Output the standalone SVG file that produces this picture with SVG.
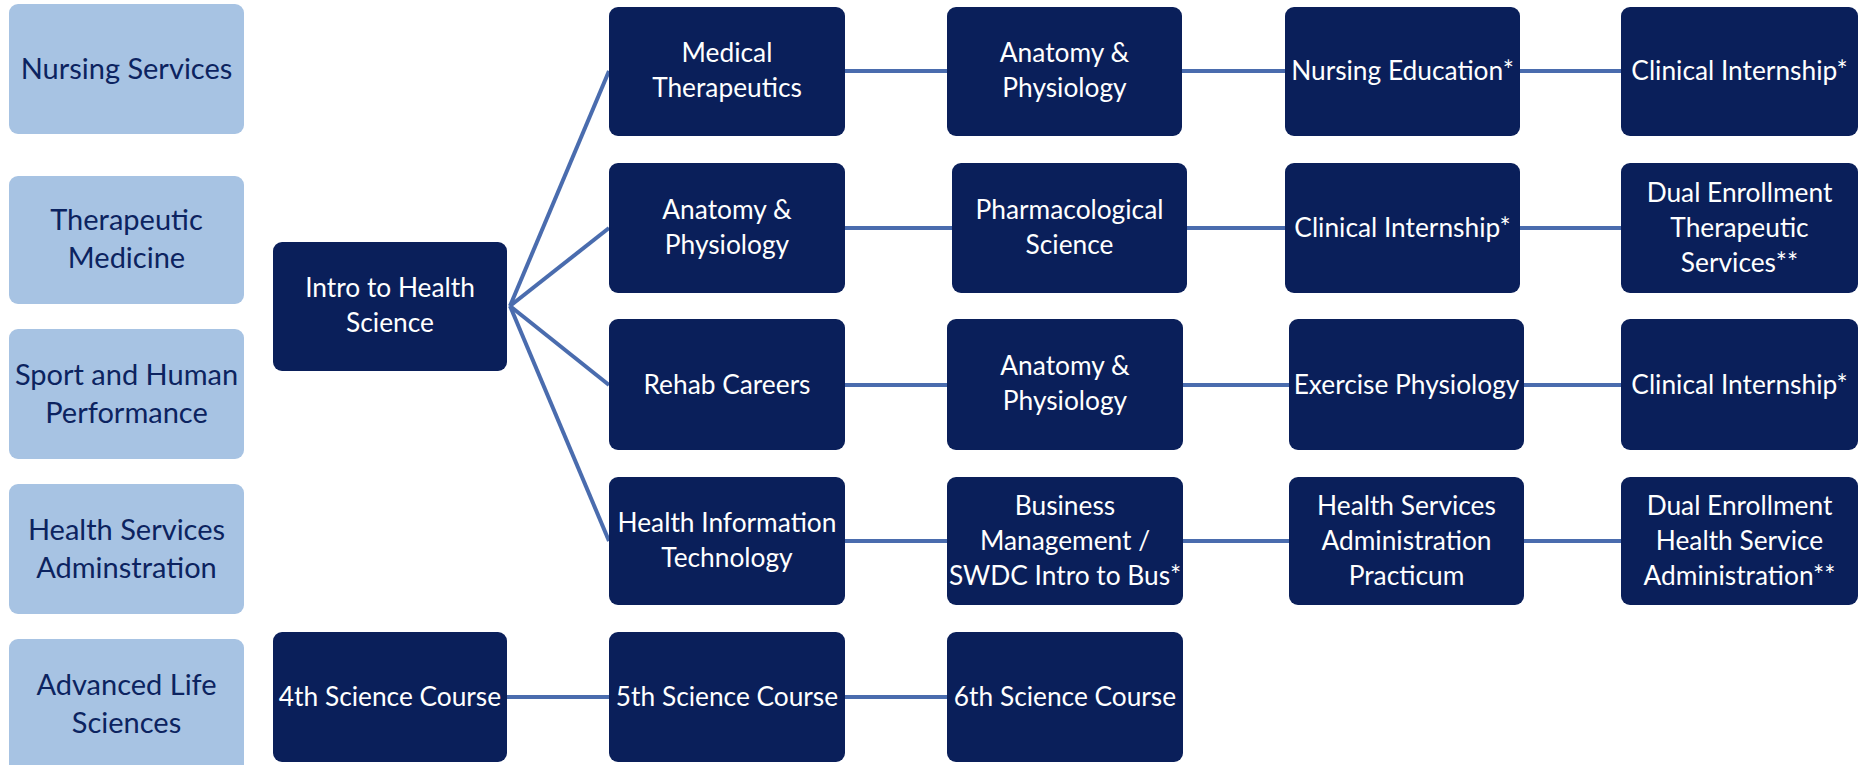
<svg xmlns="http://www.w3.org/2000/svg" width="1864" height="765" viewBox="0 0 1864 765">
<style>
.lb{fill:#a7c3e3}
.db{fill:#0a1f5a}
.lt{font-family:Lato,"Open Sans",sans-serif;font-size:29px;fill:#0c2360;text-anchor:middle}
.dt{font-family:Lato,"Open Sans",sans-serif;font-size:26.3px;fill:#ffffff;text-anchor:middle}
.c{stroke:#4a6cae;stroke-width:4;fill:none}
</style>
<rect width="1864" height="765" fill="#ffffff"/>
<g id="connectors">
<line class="c" x1="510" y1="306" x2="609" y2="71"/>
<line class="c" x1="510" y1="306" x2="609" y2="228"/>
<line class="c" x1="510" y1="306" x2="609" y2="385"/>
<line class="c" x1="510" y1="306" x2="609" y2="541"/>
<line class="c" x1="845" y1="71" x2="947" y2="71"/>
<line class="c" x1="1182" y1="71" x2="1285" y2="71"/>
<line class="c" x1="1520" y1="71" x2="1621" y2="71"/>
<line class="c" x1="845" y1="228" x2="952" y2="228"/>
<line class="c" x1="1187" y1="228" x2="1285" y2="228"/>
<line class="c" x1="1520" y1="228" x2="1621" y2="228"/>
<line class="c" x1="845" y1="385" x2="947" y2="385"/>
<line class="c" x1="1183" y1="385" x2="1289" y2="385"/>
<line class="c" x1="1524" y1="385" x2="1621" y2="385"/>
<line class="c" x1="845" y1="541" x2="947" y2="541"/>
<line class="c" x1="1183" y1="541" x2="1289" y2="541"/>
<line class="c" x1="1524" y1="541" x2="1621" y2="541"/>
<line class="c" x1="507" y1="697" x2="609" y2="697"/>
<line class="c" x1="845" y1="697" x2="947" y2="697"/>
</g>
<g id="cat-nursing"><rect class="lb" x="9" y="4" width="235" height="130" rx="9"/><text class="lt" x="126.5" y="79">Nursing Services</text></g>
<g id="cat-therapeutic"><rect class="lb" x="9" y="176" width="235" height="128" rx="9"/><text class="lt" x="126.5" y="230">Therapeutic</text><text class="lt" x="126.5" y="268">Medicine</text></g>
<g id="cat-sport"><rect class="lb" x="9" y="329" width="235" height="130" rx="9"/><text class="lt" x="126.5" y="385">Sport and Human</text><text class="lt" x="126.5" y="423">Performance</text></g>
<g id="cat-hsa"><rect class="lb" x="9" y="484" width="235" height="130" rx="9"/><text class="lt" x="126.5" y="540">Health Services</text><text class="lt" x="126.5" y="578">Adminstration</text></g>
<g id="cat-als"><rect class="lb" x="9" y="639" width="235" height="135" rx="9"/><text class="lt" x="126.5" y="695">Advanced Life</text><text class="lt" x="126.5" y="733">Sciences</text></g>

<g id="intro"><rect class="db" x="273" y="242" width="234" height="129" rx="9"/><text class="dt" x="390" y="297">Intro to Health</text><text class="dt" x="390" y="332">Science</text></g>
<g id="sci4"><rect class="db" x="273" y="632" width="234" height="130" rx="9"/><text class="dt" x="390" y="706">4th Science Course</text></g>

<g id="medther"><rect class="db" x="609" y="7" width="236" height="129" rx="9"/><text class="dt" x="727" y="62">Medical</text><text class="dt" x="727" y="97">Therapeutics</text></g>
<g id="ap1"><rect class="db" x="947" y="7" width="235" height="129" rx="9"/><text class="dt" x="1064.5" y="62">Anatomy &amp;</text><text class="dt" x="1064.5" y="97">Physiology</text></g>
<g id="nursed"><rect class="db" x="1285" y="7" width="235" height="129" rx="9"/><text class="dt" x="1402.5" y="80">Nursing Education*</text></g>
<g id="ci1"><rect class="db" x="1621" y="7" width="237" height="129" rx="9"/><text class="dt" x="1739.5" y="80">Clinical Internship*</text></g>

<g id="ap2"><rect class="db" x="609" y="163" width="236" height="130" rx="9"/><text class="dt" x="727" y="219">Anatomy &amp;</text><text class="dt" x="727" y="254">Physiology</text></g>
<g id="pharm"><rect class="db" x="952" y="163" width="235" height="130" rx="9"/><text class="dt" x="1069.5" y="219">Pharmacological</text><text class="dt" x="1069.5" y="254">Science</text></g>
<g id="ci2"><rect class="db" x="1285" y="163" width="235" height="130" rx="9"/><text class="dt" x="1402.5" y="237">Clinical Internship*</text></g>
<g id="dets"><rect class="db" x="1621" y="163" width="237" height="130" rx="9"/><text class="dt" x="1739.5" y="202">Dual Enrollment</text><text class="dt" x="1739.5" y="237">Therapeutic</text><text class="dt" x="1739.5" y="272">Services**</text></g>

<g id="rehab"><rect class="db" x="609" y="319" width="236" height="131" rx="9"/><text class="dt" x="727" y="394">Rehab Careers</text></g>
<g id="ap3"><rect class="db" x="947" y="319" width="236" height="131" rx="9"/><text class="dt" x="1065" y="375">Anatomy &amp;</text><text class="dt" x="1065" y="410">Physiology</text></g>
<g id="exphys"><rect class="db" x="1289" y="319" width="235" height="131" rx="9"/><text class="dt" x="1406.5" y="394">Exercise Physiology</text></g>
<g id="ci3"><rect class="db" x="1621" y="319" width="237" height="131" rx="9"/><text class="dt" x="1739.5" y="394">Clinical Internship*</text></g>

<g id="hit"><rect class="db" x="609" y="477" width="236" height="128" rx="9"/><text class="dt" x="727" y="532">Health Information</text><text class="dt" x="727" y="567">Technology</text></g>
<g id="bus"><rect class="db" x="947" y="477" width="236" height="128" rx="9"/><text class="dt" x="1065" y="515">Business</text><text class="dt" x="1065" y="550">Management /</text><text class="dt" x="1065" y="585">SWDC Intro to Bus*</text></g>
<g id="hsap"><rect class="db" x="1289" y="477" width="235" height="128" rx="9"/><text class="dt" x="1406.5" y="515">Health Services</text><text class="dt" x="1406.5" y="550">Administration</text><text class="dt" x="1406.5" y="585">Practicum</text></g>
<g id="dehsa"><rect class="db" x="1621" y="477" width="237" height="128" rx="9"/><text class="dt" x="1739.5" y="515">Dual Enrollment</text><text class="dt" x="1739.5" y="550">Health Service</text><text class="dt" x="1739.5" y="585">Administration**</text></g>

<g id="sci5"><rect class="db" x="609" y="632" width="236" height="130" rx="9"/><text class="dt" x="727" y="706">5th Science Course</text></g>
<g id="sci6"><rect class="db" x="947" y="632" width="236" height="130" rx="9"/><text class="dt" x="1065" y="706">6th Science Course</text></g>
</svg>
